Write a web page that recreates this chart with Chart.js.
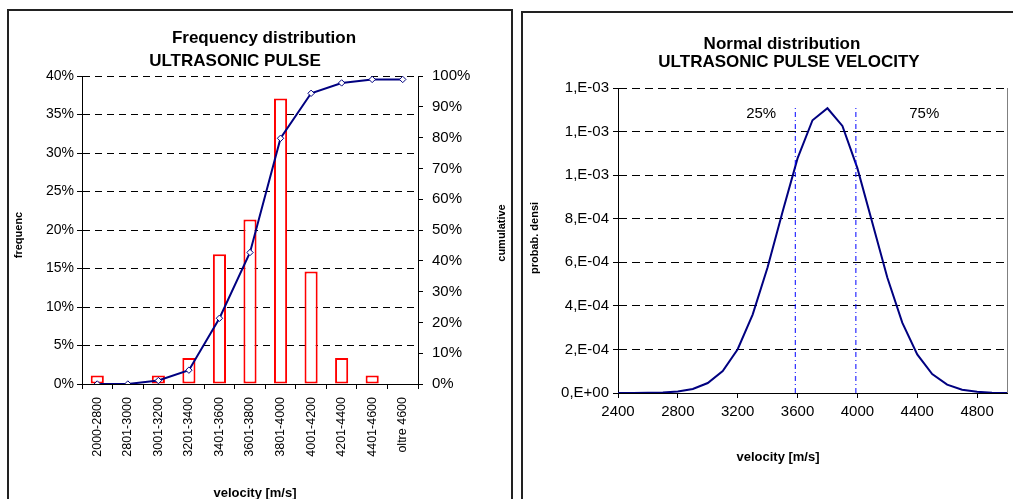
<!DOCTYPE html>
<html><head><meta charset="utf-8">
<script src="https://cdn.jsdelivr.net/npm/chart.js@4.4.0/dist/chart.umd.min.js"></script>
<style>
html,body{margin:0;padding:0;background:#fff;width:1013px;height:499px;overflow:hidden;position:relative}
.frame{position:absolute;box-sizing:border-box;border:2px solid #222;border-bottom:none}
#f1{left:7px;top:9px;width:506px;height:500px}
#f2{left:521px;top:11px;width:500px;height:500px;border-right:none}
canvas{position:absolute;top:0}
#c1{left:0}
#c2{left:512px}
</style></head><body>
<div class="frame" id="f1"></div><div class="frame" id="f2"></div>
<canvas id="c1" width="512" height="499"></canvas>
<canvas id="c2" width="501" height="499"></canvas>
<script>
// ---- Data: frequency distribution ----
const classes = ['2000-2800','2801-3000','3001-3200','3201-3400','3401-3600','3601-3800','3801-4000','4001-4200','4201-4400','4401-4600','oltre 4600'];
const frequency = [1.12, 0, 1.12, 3.37, 16.85, 21.35, 37.08, 14.61, 3.37, 1.12, 0];
const cumulative = [0, 0, 1.12, 4.49, 21.35, 42.70, 79.78, 94.38, 97.75, 98.88, 98.88];
const freqTicks = [0, 5, 10, 15, 20, 25, 30, 35, 40];
const cumTicks = [0, 10, 20, 30, 40, 50, 60, 70, 80, 90, 100];

// ---- Data: normal distribution ----
const velocity = [2400,2500,2600,2700,2800,2900,3000,3100,3200,3300,3400,3500,3600,3700,3800,3900,4000,4100,4200,4300,4400,4500,4600,4700,4800,4900,5000];
const density = [0, 0.0000002, 0.0000007, 0.0000022, 0.0000067, 0.0000185, 0.0000457, 0.000101, 0.000201, 0.00036, 0.000577, 0.000832, 0.001077, 0.001252, 0.001307, 0.001226, 0.001032, 0.000781, 0.00053, 0.000323, 0.000177, 0.000087, 0.0000384, 0.0000153, 0.0000054, 0.0000017, 0.0000005];
const velocityTicks = [2400, 2800, 3200, 3600, 4000, 4400, 4800];
const densityTicks = [0, 0.0002, 0.0004, 0.0006, 0.0008, 0.001, 0.0012, 0.0014];
const densityTickLabels = ['0,E+00','2,E-04','4,E-04','6,E-04','8,E-04','1,E-03','1,E-03','1,E-03'];
const quartiles = [3585, 3990];
const quartileTop = 0.00131;
const quartileLabels = ['25%', '75%'];

Chart.defaults.font.family = '"Liberation Sans", Arial, sans-serif';
Chart.defaults.color = '#000';

function textPlugin(items) {
  return {
    id: 'texts',
    afterDraw(chart) {
      const ctx = chart.ctx;
      ctx.save();
      ctx.fillStyle = '#000';
      items.forEach(t => {
        ctx.save();
        ctx.font = t.font + ' "Liberation Sans", Arial, sans-serif';
        ctx.textAlign = 'center';
        ctx.textBaseline = t.base || 'alphabetic';
        ctx.translate(t.x, t.y);
        if (t.rot) ctx.rotate(t.rot);
        ctx.fillText(t.text, 0, 0);
        ctx.restore();
      });
      ctx.restore();
    }
  };
}

// ---- Left chart ----
new Chart(document.getElementById('c1'), {
  data: {
    labels: classes,
    datasets: [
      { type: 'line', data: cumulative, yAxisID: 'y1', borderColor: '#000080', borderWidth: 2,
        pointStyle: 'rectRot', pointRadius: 3.2, pointBackgroundColor: '#fff', pointBorderColor: '#000080',
        pointBorderWidth: 1, tension: 0, order: 0 },
      { type: 'bar', data: frequency, yAxisID: 'y', backgroundColor: '#fff', borderColor: '#ff0000',
        borderWidth: 2, borderSkipped: false, barPercentage: 0.43, categoryPercentage: 1, order: 1 }
    ]
  },
  options: {
    responsive: false, animation: false, events: [],
    layout: { padding: { top: 76, left: 0, right: 0, bottom: 0 } },
    plugins: { legend: { display: false }, tooltip: { enabled: false } },
    scales: {
      x: {
        offset: true,
        grid: { drawOnChartArea: false, drawTicks: true, tickLength: 5, color: '#000', offset: true },
        border: { color: '#000', width: 1 },
        ticks: { minRotation: 90, maxRotation: 90, autoSkip: false, padding: 8, font: { size: 12.5 }, color: '#000' },
        afterFit: s => { s.height = 115; }
      },
      y: {
        position: 'left', min: 0, max: 40,
        afterBuildTicks: s => { s.ticks = freqTicks.map(v => ({ value: v })); },
        ticks: { callback: v => v + '%', padding: 3, font: { size: 14 }, color: '#000' },
        grid: { color: '#000', tickLength: 5 },
        border: { color: '#000', dash: [7, 5] },
        afterFit: s => { s.width = 82; }
      },
      y1: {
        position: 'right', min: 0, max: 100,
        afterBuildTicks: s => { s.ticks = cumTicks.map(v => ({ value: v })); },
        ticks: { callback: v => v + '%', padding: 9, font: { size: 15 }, color: '#000' },
        grid: { drawOnChartArea: false, color: '#000', tickLength: 5 },
        border: { color: '#000' },
        afterFit: s => { s.width = 94; }
      }
    }
  },
  plugins: [textPlugin([
    { text: 'Frequency distribution', x: 264, y: 42.5, font: 'bold 17px' },
    { text: 'ULTRASONIC PULSE', x: 235, y: 66, font: 'bold 17px' },
    { text: 'frequenc', x: 18.5, y: 235, font: 'bold 11px', rot: -Math.PI / 2, base: 'middle' },
    { text: 'cumulative', x: 501.5, y: 233, font: 'bold 11px', rot: -Math.PI / 2, base: 'middle' },
    { text: 'velocity [m/s]', x: 255, y: 493, font: 'bold 13px', base: 'middle' }
  ])]
});

// ---- Right chart ----
const quartileLabelPlugin = {
  id: 'qlabels',
  afterDatasetsDraw(chart) {
    const ctx = chart.ctx, xs = chart.scales.x, ys = chart.scales.y;
    const pos = [3357, 4447];
    ctx.save();
    ctx.font = '15px "Liberation Sans", Arial, sans-serif';
    ctx.fillStyle = '#000';
    ctx.textAlign = 'center';
    ctx.textBaseline = 'middle';
    quartileLabels.forEach((t, i) => ctx.fillText(t, xs.getPixelForValue(pos[i]), ys.getPixelForValue(0.001281)));
    // plot area right border
    const a = chart.chartArea;
    ctx.strokeStyle = '#808080';
    ctx.lineWidth = 1;
    ctx.beginPath();
    ctx.moveTo(a.right + 0.5, a.top);
    ctx.lineTo(a.right + 0.5, a.bottom);
    ctx.stroke();
    ctx.restore();
  }
};

new Chart(document.getElementById('c2'), {
  type: 'scatter',
  data: {
    datasets: [
      ...quartiles.map(q => ({
        data: [{ x: q, y: 0 }, { x: q, y: quartileTop }], showLine: true, borderColor: '#0000ff',
        borderWidth: 1, borderDash: [5, 3, 1, 3], pointRadius: 0
      })),
      { data: velocity.map((v, i) => ({ x: v, y: density[i] })), showLine: true, borderColor: '#000080',
        borderWidth: 2, pointRadius: 0, tension: 0 }
    ]
  },
  options: {
    responsive: false, animation: false, events: [],
    layout: { padding: { top: 88, right: 6, left: 0, bottom: 0 } },
    plugins: { legend: { display: false }, tooltip: { enabled: false } },
    scales: {
      x: {
        type: 'linear', min: 2400, max: 5000,
        afterBuildTicks: s => { s.ticks = velocityTicks.map(v => ({ value: v })); },
        grid: { drawOnChartArea: false, color: '#000', tickLength: 5 },
        border: { color: '#000' },
        ticks: { padding: 5, font: { size: 15 }, color: '#000', maxRotation: 0, callback: v => String(v) },
        afterFit: s => { s.height = 106; }
      },
      y: {
        min: 0, max: 0.0014,
        afterBuildTicks: s => { s.ticks = densityTicks.map(v => ({ value: v })); },
        ticks: { callback: (v, i) => densityTickLabels[i], padding: 4, font: { size: 15 }, color: '#000' },
        grid: { color: '#000', tickLength: 5 },
        border: { color: '#000', dash: [8, 5] },
        afterFit: s => { s.width = 106; }
      }
    }
  },
  plugins: [quartileLabelPlugin, textPlugin([
    { text: 'Normal distribution', x: 270, y: 48.5, font: 'bold 17px' },
    { text: 'ULTRASONIC PULSE VELOCITY', x: 277, y: 66.5, font: 'bold 17px' },
    { text: 'probab. densi', x: 23, y: 238, font: 'bold 11px', rot: -Math.PI / 2, base: 'middle' },
    { text: 'velocity [m/s]', x: 266, y: 457, font: 'bold 13px', base: 'middle' }
  ])]
});
</script>
</body></html>
